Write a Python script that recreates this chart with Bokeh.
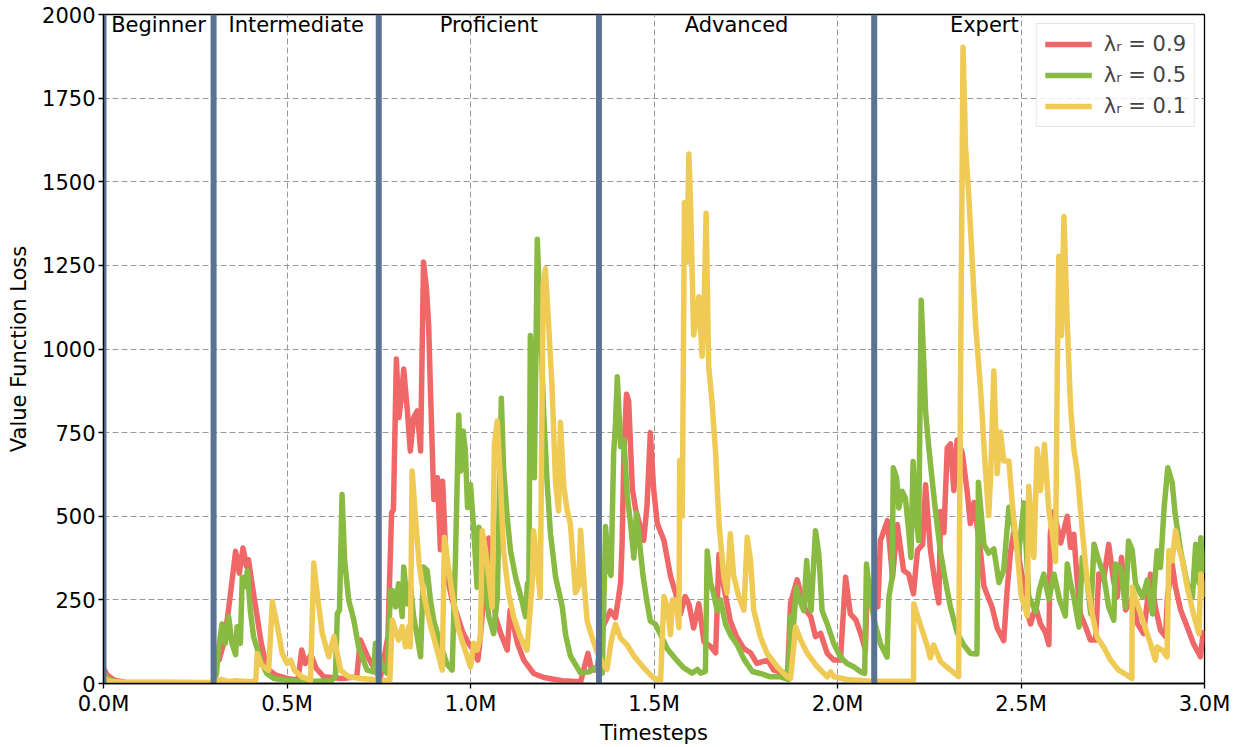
from bokeh.plotting import figure
from bokeh.models import Legend, LegendItem, FixedTicker, CustomJSTickFormatter
from bokeh.core.properties import value
from bokeh.embed import file_html
from bokeh.resources import INLINE

# ---- data (timesteps in millions) ----
red_x = [0.0, 0.01, 0.03, 0.06, 0.29, 0.30, 0.305, 0.315, 0.33, 0.345, 0.36, 0.37, 0.38, 0.39, 0.395,
         0.41, 0.43, 0.445, 0.47, 0.50, 0.53, 0.54, 0.55, 0.565, 0.58, 0.60, 0.65, 0.69, 0.70, 0.72,
         0.745, 0.755, 0.775, 0.785, 0.79, 0.798, 0.805, 0.812, 0.818, 0.828, 0.836, 0.845, 0.855,
         0.864, 0.872, 0.88, 0.886, 0.89, 0.90, 0.91, 0.918, 0.924, 0.932, 0.94, 0.95, 0.965, 0.98,
         0.995, 1.008, 1.02, 1.027, 1.05, 1.06, 1.068, 1.082, 1.10, 1.108, 1.128, 1.145, 1.172, 1.20,
         1.25, 1.30, 1.32, 1.33, 1.345, 1.359, 1.381, 1.395, 1.409, 1.413, 1.418, 1.425, 1.431, 1.441,
         1.45, 1.462, 1.472, 1.481, 1.49, 1.499, 1.509, 1.527, 1.545, 1.559, 1.572, 1.585, 1.595, 1.608,
         1.622, 1.636, 1.655, 1.668, 1.677, 1.69, 1.708, 1.725, 1.745, 1.763, 1.78, 1.81, 1.826, 1.864,
         1.872, 1.89, 1.90, 1.913, 1.927, 1.94, 1.954, 1.972, 1.99, 2.008, 2.022, 2.035, 2.05, 2.063,
         2.076, 2.081, 2.10, 2.11, 2.117, 2.12, 2.136, 2.15, 2.163, 2.18, 2.194, 2.207, 2.218, 2.232,
         2.24, 2.253, 2.267, 2.276, 2.281, 2.29, 2.299, 2.308, 2.317, 2.326, 2.34, 2.353, 2.362, 2.372,
         2.39, 2.399, 2.408, 2.421, 2.435, 2.453, 2.462, 2.471, 2.48, 2.494, 2.508, 2.517, 2.526, 2.54,
         2.553, 2.567, 2.576, 2.58, 2.59, 2.608, 2.626, 2.635, 2.644, 2.653, 2.662, 2.676, 2.689, 2.703,
         2.712, 2.725, 2.739, 2.752, 2.762, 2.774, 2.785, 2.804, 2.817, 2.834, 2.853, 2.866, 2.88,
         2.894, 2.899, 2.912, 2.921, 2.935, 2.953, 2.97, 2.989, 2.997]
red_y = [45, 25, 10, 4, 2, 3, 95, 70, 130, 260, 395, 330, 405, 350, 370,
         260, 120, 45, 25, 15, 10, 100, 60, 85, 45, 20, 15, 20, 130, 80,
         30, 20, 140, 510, 520, 970, 795, 860, 940, 815, 695, 795, 815,
         695, 1260, 1180, 1070, 910, 550, 615, 400, 605, 400, 300, 250, 200, 150,
         120, 100, 70, 140, 435, 300, 200, 150, 100, 220, 120, 70, 30, 18,
         8, 5, 90, 40, 40, 166, 217, 197, 300, 416, 686, 865, 844, 582,
         520, 470, 428, 532, 750, 582, 478, 428, 321, 270, 208, 260, 238, 166,
         238, 125, 110, 92, 386, 291, 187, 140, 104, 92, 60, 70, 40, 30,
         240, 310, 270, 220, 200, 140, 150, 90, 70, 70, 318, 208, 190, 150,
         100, 300, 225, 230, 428, 437, 487, 318, 475, 338, 327, 268, 398, 416,
         594, 400, 292, 241, 514, 451, 704, 716, 577, 728, 689, 577, 478, 541,
         389, 291, 265, 229, 166, 128, 276, 390, 451, 377, 291, 214, 178, 229,
         178, 152, 116, 451, 514, 420, 500, 407, 446, 309, 208, 169, 130, 130,
         327, 309, 416, 309, 258, 377, 220, 258, 179, 149, 327, 229, 160,
         140, 258, 357, 288, 220, 169, 119, 80, 160]

green_x = [0.0, 0.01, 0.03, 0.06, 0.30, 0.308, 0.312, 0.323, 0.332, 0.341, 0.35, 0.36, 0.364, 0.373,
           0.378, 0.387, 0.392, 0.40, 0.409, 0.428, 0.445, 0.464, 0.50, 0.55, 0.62, 0.632, 0.637,
           0.643, 0.65, 0.657, 0.668, 0.682, 0.695, 0.718, 0.736, 0.741, 0.76, 0.773, 0.782, 0.787,
           0.796, 0.804, 0.814, 0.818, 0.828, 0.836, 0.845, 0.855, 0.864, 0.872, 0.882, 0.891, 0.90,
           0.918, 0.936, 0.95, 0.959, 0.968, 0.973, 0.98, 0.986, 0.992, 1.0, 1.009, 1.018, 1.023,
           1.032, 1.041, 1.05, 1.063, 1.073, 1.084, 1.09, 1.10, 1.109, 1.123, 1.14, 1.15, 1.155,
           1.159, 1.163, 1.17, 1.174, 1.182, 1.19, 1.20, 1.209, 1.218, 1.232, 1.25, 1.259, 1.272,
           1.30, 1.327, 1.336, 1.359, 1.368, 1.376, 1.383, 1.39, 1.395, 1.40, 1.409, 1.418, 1.427,
           1.436, 1.445, 1.452, 1.46, 1.47, 1.48, 1.49, 1.504, 1.518, 1.536, 1.559, 1.581, 1.604,
           1.618, 1.627, 1.64, 1.645, 1.654, 1.662, 1.672, 1.681, 1.695, 1.708, 1.727, 1.745, 1.768,
           1.79, 1.817, 1.845, 1.866, 1.872, 1.88, 1.888, 1.894, 1.908, 1.916, 1.921, 1.928, 1.94,
           1.949, 1.958, 1.972, 1.99, 2.008, 2.026, 2.044, 2.063, 2.074, 2.079, 2.088, 2.10, 2.117,
           2.135, 2.14, 2.149, 2.152, 2.161, 2.167, 2.176, 2.185, 2.194, 2.20, 2.206, 2.213, 2.221,
           2.228, 2.235, 2.24, 2.249, 2.267, 2.281, 2.295, 2.308, 2.326, 2.344, 2.362, 2.38, 2.384,
           2.399, 2.412, 2.426, 2.44, 2.453, 2.467, 2.48, 2.494, 2.508, 2.521, 2.54, 2.55, 2.562,
           2.576, 2.59, 2.605, 2.621, 2.626, 2.635, 2.644, 2.658, 2.667, 2.68, 2.69, 2.699, 2.712,
           2.725, 2.739, 2.753, 2.757, 2.771, 2.785, 2.793, 2.803, 2.812, 2.831, 2.844, 2.858, 2.871,
           2.88, 2.89, 2.90, 2.912, 2.92, 2.935, 2.953, 2.967, 2.976, 2.985, 2.99, 2.998]
green_y = [30, 15, 6, 3, 2, 30, 90, 178, 120, 200, 120, 86, 170, 120,
           318, 290, 338, 218, 140, 70, 30, 15, 10, 6, 8, 20, 208,
           220, 565, 368, 250, 190, 110, 40, 35, 120, 50, 30, 278, 278,
           229, 298, 200, 348, 238, 298, 200, 139, 80, 348, 338, 248, 188,
           117, 58, 40, 378, 803, 635, 755, 695, 526, 595, 457, 288, 467,
           397, 278, 200, 149, 258, 853, 645, 497, 397, 317, 248, 200, 298,
           278, 1040, 833, 615, 1328, 1090, 794, 596, 447, 317, 230, 146, 83,
           31, 36, 47, 31, 469, 344, 323, 687, 776, 917, 708, 729, 562,
           479, 375, 510, 427, 323, 250, 187, 177, 146, 104, 73, 47, 31,
           42, 31, 36, 396, 302, 271, 219, 250, 177, 146, 115, 73, 36,
           30, 20, 20, 12, 200, 170, 288, 258, 218, 368, 278, 218, 457,
           388, 218, 178, 119, 79, 60, 50, 35, 30, 357, 268, 188, 119,
           79, 258, 318, 645, 615, 525, 575, 555, 457, 377, 664, 515, 427,
           1146, 962, 813, 702, 515, 390, 302, 227, 152, 115, 90, 88, 602,
           415, 390, 402, 302, 340, 527, 470, 390, 540, 260, 215, 280, 327,
           252, 327, 250, 202, 357, 300, 258, 169, 377, 309, 208, 416, 367,
           327, 228, 189, 357, 347, 228, 426, 400, 298, 258, 309, 208, 397,
           347, 526, 645, 600, 506, 397, 298, 258, 416, 300, 436, 330]

yellow_x = [0.0, 0.01, 0.03, 0.07, 0.30, 0.32, 0.34, 0.36, 0.40, 0.415, 0.419, 0.43, 0.45, 0.46,
            0.474, 0.487, 0.50, 0.51, 0.52, 0.54, 0.564, 0.573, 0.582, 0.596, 0.614, 0.628, 0.646,
            0.668, 0.70, 0.78, 0.787, 0.804, 0.814, 0.823, 0.832, 0.836, 0.841, 0.85, 0.86, 0.872,
            0.89, 0.909, 0.923, 0.929, 0.936, 0.95, 0.968, 0.991, 1.0, 1.009, 1.018, 1.027, 1.032,
            1.041, 1.05, 1.059, 1.065, 1.073, 1.082, 1.09, 1.104, 1.118, 1.136, 1.154, 1.168, 1.172,
            1.182, 1.19, 1.198, 1.204, 1.213, 1.222, 1.232, 1.24, 1.245, 1.254, 1.263, 1.272, 1.286,
            1.295, 1.30, 1.31, 1.318, 1.332, 1.345, 1.359, 1.372, 1.383, 1.395, 1.409, 1.427, 1.445,
            1.472, 1.499, 1.518, 1.527, 1.536, 1.545, 1.55, 1.559, 1.568, 1.57, 1.577, 1.583, 1.59,
            1.595, 1.60, 1.608, 1.618, 1.622, 1.631, 1.636, 1.642, 1.649, 1.658, 1.668, 1.677, 1.69,
            1.699, 1.708, 1.717, 1.731, 1.745, 1.754, 1.763, 1.772, 1.79, 1.808, 1.836, 1.863, 1.872,
            1.886, 1.90, 1.918, 1.945, 1.972, 1.981, 1.99, 2.026, 2.09, 2.207, 2.208, 2.226, 2.244,
            2.253, 2.262, 2.281, 2.308, 2.33, 2.335, 2.342, 2.349, 2.358, 2.367, 2.376, 2.39, 2.403,
            2.412, 2.417, 2.426, 2.435, 2.444, 2.453, 2.467, 2.476, 2.49, 2.50, 2.517, 2.521, 2.535,
            2.544, 2.553, 2.564, 2.576, 2.585, 2.594, 2.599, 2.603, 2.61, 2.617, 2.626, 2.635, 2.644,
            2.653, 2.667, 2.68, 2.694, 2.707, 2.725, 2.744, 2.766, 2.789, 2.802, 2.803, 2.817, 2.835,
            2.853, 2.866, 2.871, 2.885, 2.898, 2.903, 2.912, 2.921, 2.93, 2.94, 2.953, 2.97, 2.985,
            2.99, 3.0]
yellow_y = [20, 10, 5, 3, 3, 12, 6, 8, 5, 10, 90, 55, 40, 245,
            170, 90, 60, 70, 40, 20, 10, 360, 270, 150, 80, 140, 40,
            20, 15, 8, 190, 130, 170, 110, 170, 110, 635, 497, 357, 268,
            178, 100, 40, 437, 377, 268, 159, 80, 50, 120, 100, 139, 457,
            397, 317, 228, 714, 784, 595, 397, 268, 198, 139, 100, 298, 457,
            347, 258, 1190, 1240, 1070, 892, 595, 516, 781, 590, 520, 479, 271,
            292, 458, 292, 187, 135, 94, 62, 42, 125, 177, 135, 115, 83,
            47, 16, 10, 260, 229, 146, 250, 250, 167, 667, 500, 1437, 1260,
            1583, 1417, 1042, 1104, 1156, 979, 1104, 1406, 948, 844, 687, 479, 323,
            271, 448, 323, 260, 219, 437, 368, 218, 139, 90, 50, 20, 15,
            169, 129, 90, 50, 20, 35, 20, 12, 7, 7, 238, 175, 115,
            77, 115, 65, 40, 21, 865, 1902, 1602, 1452, 1265, 1077, 877, 640,
            502, 615, 934, 627, 752, 665, 665, 540, 390, 265, 202, 590, 377,
            702, 577, 715, 515, 452, 365, 952, 1277, 1040, 1396, 1077, 827, 702,
            635, 457, 309, 208, 139, 109, 70, 40, 25, 15, 288, 238, 178,
            119, 70, 109, 99, 80, 397, 367, 457, 407, 367, 288, 208, 149,
            327, 258]

series_labels = ["λᵣ = 0.9", "λᵣ = 0.5", "λᵣ = 0.1"]
series_colors = ["#EF6767", "#89BB43", "#EFCB55"]

stage_names = ["Beginner", "Intermediate", "Proficient", "Advanced", "Expert"]
stage_starts = [0.0, 0.3, 0.75, 1.35, 2.1]
stage_label_x = [0.15, 0.525, 1.05, 1.725, 2.4]

x_ticks = [0.0, 0.5, 1.0, 1.5, 2.0, 2.5, 3.0]
y_ticks = [0, 250, 500, 750, 1000, 1250, 1500, 1750, 2000]

FONT = "DejaVu Sans"
FS = "21px"

p = figure(width=1237, height=747, x_range=(0, 3.0), y_range=(0, 2000),
           output_backend="svg", toolbar_location=None,
           min_border_left=103, min_border_right=33, min_border_top=14, min_border_bottom=60)

p.background_fill_color = "white"
p.border_fill_color = "white"
p.outline_line_color = "black"
p.outline_line_width = 1.3

# grid
for g in (p.xgrid, p.ygrid):
    g.grid_line_color = "#9a9a9a"
    g.grid_line_dash = "6 3"
    g.grid_line_width = 1

# axes
p.xaxis.ticker = FixedTicker(ticks=x_ticks)
p.yaxis.ticker = FixedTicker(ticks=y_ticks)
p.xaxis.formatter = CustomJSTickFormatter(code="return tick.toFixed(1) + 'M';")
for ax in (p.xaxis, p.yaxis):
    ax.axis_line_color = "black"
    ax.axis_line_width = 1.3
    ax.major_tick_line_color = "black"
    ax.major_tick_line_width = 1.3
    ax.major_tick_in = 0
    ax.major_tick_out = 5
    ax.minor_tick_line_color = None
    ax.major_label_text_font = FONT
    ax.major_label_text_font_size = FS
    ax.major_label_text_color = "black"
    ax.axis_label_text_font = FONT
    ax.axis_label_text_font_size = FS
    ax.axis_label_text_font_style = "normal"
    ax.axis_label_text_color = "black"
    ax.major_label_standoff = 3
p.xaxis.axis_label = "Timesteps"
p.yaxis.axis_label = "Value Function Loss"
p.xaxis.axis_label_standoff = 2
p.yaxis.axis_label_standoff = 8

# loss curves
renderers = []
for xs, ys, c in ((red_x, red_y, series_colors[0]),
                  (green_x, green_y, series_colors[1]),
                  (yellow_x, yellow_y, series_colors[2])):
    r = p.line(xs, ys, line_color=c, line_width=5.5, line_join="round")
    renderers.append(r)

# curriculum stage boundaries
p.segment(x0=stage_starts, y0=[0] * len(stage_starts), x1=stage_starts,
          y1=[2000] * len(stage_starts), line_color="#5B7393", line_width=6)

# stage names along the top edge
p.text(x=stage_label_x, y=[2000] * len(stage_label_x), text=stage_names,
       text_font=value(FONT), text_font_size=FS, text_align="center",
       text_baseline="top", text_color="black", y_offset=-2)

legend = Legend(items=[LegendItem(label=lbl, renderers=[r])
                       for lbl, r in zip(series_labels, renderers)],
                location="top_right")
legend.label_text_font = FONT
legend.label_text_font_size = FS
legend.glyph_width = 47
legend.glyph_height = 22
legend.label_height = 22
legend.spacing = 7
legend.padding = 8
legend.margin = 9
legend.label_standoff = 12
legend.border_line_color = "#cccccc"
legend.border_line_width = 1
legend.background_fill_alpha = 0.8
p.add_layout(legend)

open("out.html", "w").write(file_html(p, INLINE))
